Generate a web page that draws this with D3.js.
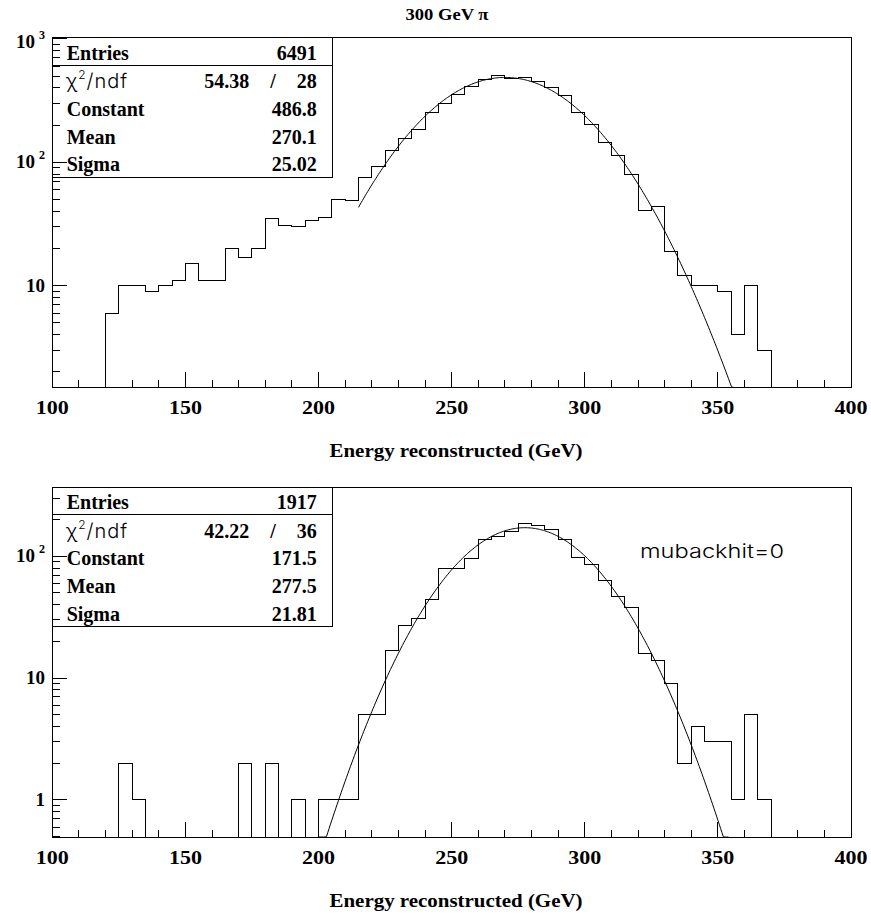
<!DOCTYPE html>
<html>
<head>
<meta charset="utf-8">
<script src="https://cdn.jsdelivr.net/npm/d3@7"></script>
<style>
  html, body { margin: 0; padding: 0; background: #fff; }
  svg { display: block; }
</style>
</head>
<body>
<div id="chart"></div>
<script>
// ---------------- DATA ----------------
const binWidth = 5;
const binLow = [120,125,130,135,140,145,150,155,160,165,170,175,180,185,190,195,200,205,210,215,
                220,225,230,235,240,245,250,255,260,265,270,275,280,285,290,295,300,305,310,315,
                320,325,330,335,340,345,350,355,360,365];
const topCounts = [6,10,10,9,10, 11,15,11,11,20, 17,20,35,31,30, 34,36,50,49,75,
                   93,124,157,185,252, 299,356,410,466,502, 481,490,449,400,347, 252,202,144,114,80,
                   41,44,19,12,10, 10,9,4,10,3];
const bottomCounts = [0,2,1,0,0, 0,0,0,0,0, 2,0,2,0,1, 0,1,1,1,5,
                      5,17,27,31,44, 80,80,96,138,145, 159,186,180,166,136, 98,85,63,47,38,
                      16,14,9,2,4, 3,3,1,5,1];
const topFit = [486.8, 270.1, 25.02];      // constant, mean, sigma
const bottomFit = [171.5, 277.5, 21.81];
const topFitRange = [215, 356];
const bottomFitRange = [200, 354];
const statLabels = ["Entries", "chi2", "Constant", "Mean", "Sigma"];
const topStats = ["6491", ["54.38", "28"], "486.8", "270.1", "25.02"];
const bottomStats = ["1917", ["42.22", "36"], "171.5", "277.5", "21.81"];
const xDomain = [100, 400];
const xTickLabels = ["100","150","200","250","300","350","400"];
const topYDomain = [1.50, 1022];
const bottomYDomain = [0.497, 370];
const topYLabels = [[10, "10", ""], [100, "10", "2"], [1000, "10", "3"]];
const bottomYLabels = [[1, "1", ""], [10, "10", ""], [100, "10", "2"]];
const title = "300 GeV \u03c0";
const xTitle = "Energy reconstructed (GeV)";
const annotation = "mubackhit=0";

// ---------------- DRAW ----------------
const W = 871, H = 918;
const SERIF = "'Liberation Serif', 'Times New Roman', serif";
const THIN = "Inter, 'DejaVu Sans', sans-serif";
const svg = d3.select("#chart").append("svg").attr("width", W).attr("height", H);

const fx0 = 52.3, fx1 = 851;
const x = d3.scaleLinear().domain(xDomain).range([fx0, fx1]);

svg.append("text")
  .attr("x", 447).attr("y", 19.5)
  .attr("text-anchor", "middle")
  .attr("font-family", SERIF).attr("font-weight", "bold").attr("font-size", 16)
  .attr("textLength", 83).attr("lengthAdjust", "spacingAndGlyphs")
  .text(title);

function drawPanel(cfg) {
  const {top, bottom, yDomain, counts, fit, fitRange, stats, yLabels, id} = cfg;
  const y = d3.scaleLog().domain(yDomain).range([bottom, top]);
  const ymin = yDomain[0];
  const g = svg.append("g");

  g.append("clipPath").attr("id", "clip" + id)
    .append("rect").attr("x", fx0).attr("y", top).attr("width", fx1 - fx0).attr("height", bottom - top);

  // frame
  g.append("rect").attr("x", fx0).attr("y", top).attr("width", fx1 - fx0).attr("height", bottom - top)
    .attr("fill", "none").attr("stroke", "#000").attr("stroke-width", 1)
    .attr("shape-rendering", "crispEdges");

  // histogram outline
  const pts = [[binLow[0], ymin]];
  binLow.forEach((lo, i) => {
    const v = counts[i] > 0 ? counts[i] : ymin;
    pts.push([lo, v], [lo + binWidth, v]);
  });
  pts.push([binLow[binLow.length - 1] + binWidth, ymin]);
  const line = d3.line().x(d => x(d[0])).y(d => y(Math.max(d[1], ymin)));
  g.append("path").attr("d", line(pts))
    .attr("fill", "none").attr("stroke", "#000").attr("stroke-width", 1)
    .attr("shape-rendering", "crispEdges")
    .attr("clip-path", `url(#clip${id})`);

  // fit curve (gaussian with fitted parameters)
  const [c, m, s] = fit;
  const fpts = [];
  for (let e = fitRange[0]; e <= fitRange[1] + 1e-9; e += 0.5) {
    fpts.push([e, c * Math.exp(-0.5 * ((e - m) / s) ** 2)]);
  }
  g.append("path").attr("d", line(fpts))
    .attr("fill", "none").attr("stroke", "#000").attr("stroke-width", 1)
    .attr("clip-path", `url(#clip${id})`);

  // stats box
  const bx0 = fx0, bx1 = 332.3, bh = 139.3;
  g.append("rect").attr("x", bx0).attr("y", top).attr("width", bx1 - bx0).attr("height", bh)
    .attr("fill", "#fff").attr("stroke", "#000").attr("stroke-width", 1)
    .attr("shape-rendering", "crispEdges");
  g.append("line").attr("x1", bx0).attr("x2", bx1).attr("y1", top + 27.5).attr("y2", top + 27.5)
    .attr("stroke", "#000").attr("stroke-width", 1).attr("shape-rendering", "crispEdges");
  const rowY = [22.3, 50.5, 78, 105.8, 133.7];
  statLabels.forEach((lab, i) => {
    const by = top + rowY[i];
    if (lab === "chi2") {
      const t = g.append("text").attr("x", 66).attr("y", by)
        .attr("font-family", THIN).attr("font-weight", 300).attr("font-size", 20);
      t.append("tspan").text("\u03c7");
      t.append("tspan").attr("font-size", 12).attr("dy", -9).attr("dx", 1).text("2");
      t.append("tspan").attr("dy", 9).attr("dx", 1).attr("letter-spacing", 1).text("/ndf");
      g.append("text").attr("x", 249.3).attr("y", by).attr("text-anchor", "end")
        .attr("font-family", SERIF).attr("font-weight", "bold").attr("font-size", 20)
        .text(stats[i][0]);
      g.append("text").attr("x", 273).attr("y", by).attr("text-anchor", "middle")
        .attr("font-family", SERIF).attr("font-weight", "bold").attr("font-size", 20)
        .text("/");
      g.append("text").attr("x", 316.7).attr("y", by).attr("text-anchor", "end")
        .attr("font-family", SERIF).attr("font-weight", "bold").attr("font-size", 20)
        .text(stats[i][1]);
    } else {
      g.append("text").attr("x", 66.7).attr("y", by)
        .attr("font-family", SERIF).attr("font-weight", "bold").attr("font-size", 20)
        .text(lab);
      g.append("text").attr("x", 316.7).attr("y", by).attr("text-anchor", "end")
        .attr("font-family", SERIF).attr("font-weight", "bold").attr("font-size", 20)
        .text(stats[i]);
    }
  });

  // x-axis ticks
  x.ticks(30).forEach(t => {
    const len = (t % 50 === 0) ? 15 : 7.5;
    g.append("line").attr("x1", x(t)).attr("x2", x(t)).attr("y1", bottom).attr("y2", bottom - len)
      .attr("stroke", "#000").attr("stroke-width", 1).attr("shape-rendering", "crispEdges");
  });
  x.ticks(6).forEach((t, i) => {
    g.append("text").attr("x", x(t)).attr("y", bottom + 26.5).attr("text-anchor", "middle")
      .attr("font-family", SERIF).attr("font-weight", "bold").attr("font-size", 19)
      .attr("textLength", 33).attr("lengthAdjust", "spacingAndGlyphs")
      .text(xTickLabels[i]);
  });
  g.append("text").attr("x", 456).attr("y", bottom + 70).attr("text-anchor", "middle")
    .attr("font-family", SERIF).attr("font-weight", "bold").attr("font-size", 18)
    .attr("textLength", 253).attr("lengthAdjust", "spacingAndGlyphs")
    .text(xTitle);

  // y-axis ticks (log)
  const d0 = Math.floor(Math.log10(yDomain[0])), d1 = Math.ceil(Math.log10(yDomain[1]));
  for (let d = d0; d <= d1; d++) {
    for (let k = 1; k <= 9; k++) {
      const v = k * Math.pow(10, d);
      if (v < yDomain[0] || v > yDomain[1]) continue;
      const len = k === 1 ? 15 : 7.5;
      g.append("line").attr("x1", fx0).attr("x2", fx0 + len).attr("y1", y(v)).attr("y2", y(v))
        .attr("stroke", "#000").attr("stroke-width", 1).attr("shape-rendering", "crispEdges");
    }
  }
  yLabels.forEach(([v, base, exp]) => {
    const by = Math.max(y(v) + 6, top + 10);
    const t = g.append("text").attr("x", 45).attr("y", by).attr("text-anchor", "end")
      .attr("font-family", SERIF).attr("font-weight", "bold").attr("font-size", 19);
    t.append("tspan").text(base);
    if (exp) t.append("tspan").attr("font-size", 12).attr("dx", 4).attr("dy", -9).text(exp);
  });
  return {g, y};
}

drawPanel({id: "a", top: 37.7, bottom: 387.3, yDomain: topYDomain, counts: topCounts,
           fit: topFit, fitRange: topFitRange, stats: topStats, yLabels: topYLabels});
const p2 = drawPanel({id: "b", top: 487, bottom: 837, yDomain: bottomYDomain, counts: bottomCounts,
           fit: bottomFit, fitRange: bottomFitRange, stats: bottomStats, yLabels: bottomYLabels});

p2.g.append("text").attr("x", 640).attr("y", 558)
  .attr("font-family", THIN).attr("font-weight", 300).attr("font-size", 18.5)
  .attr("textLength", 144).attr("lengthAdjust", "spacingAndGlyphs")
  .text(annotation);
</script>
</body>
</html>
